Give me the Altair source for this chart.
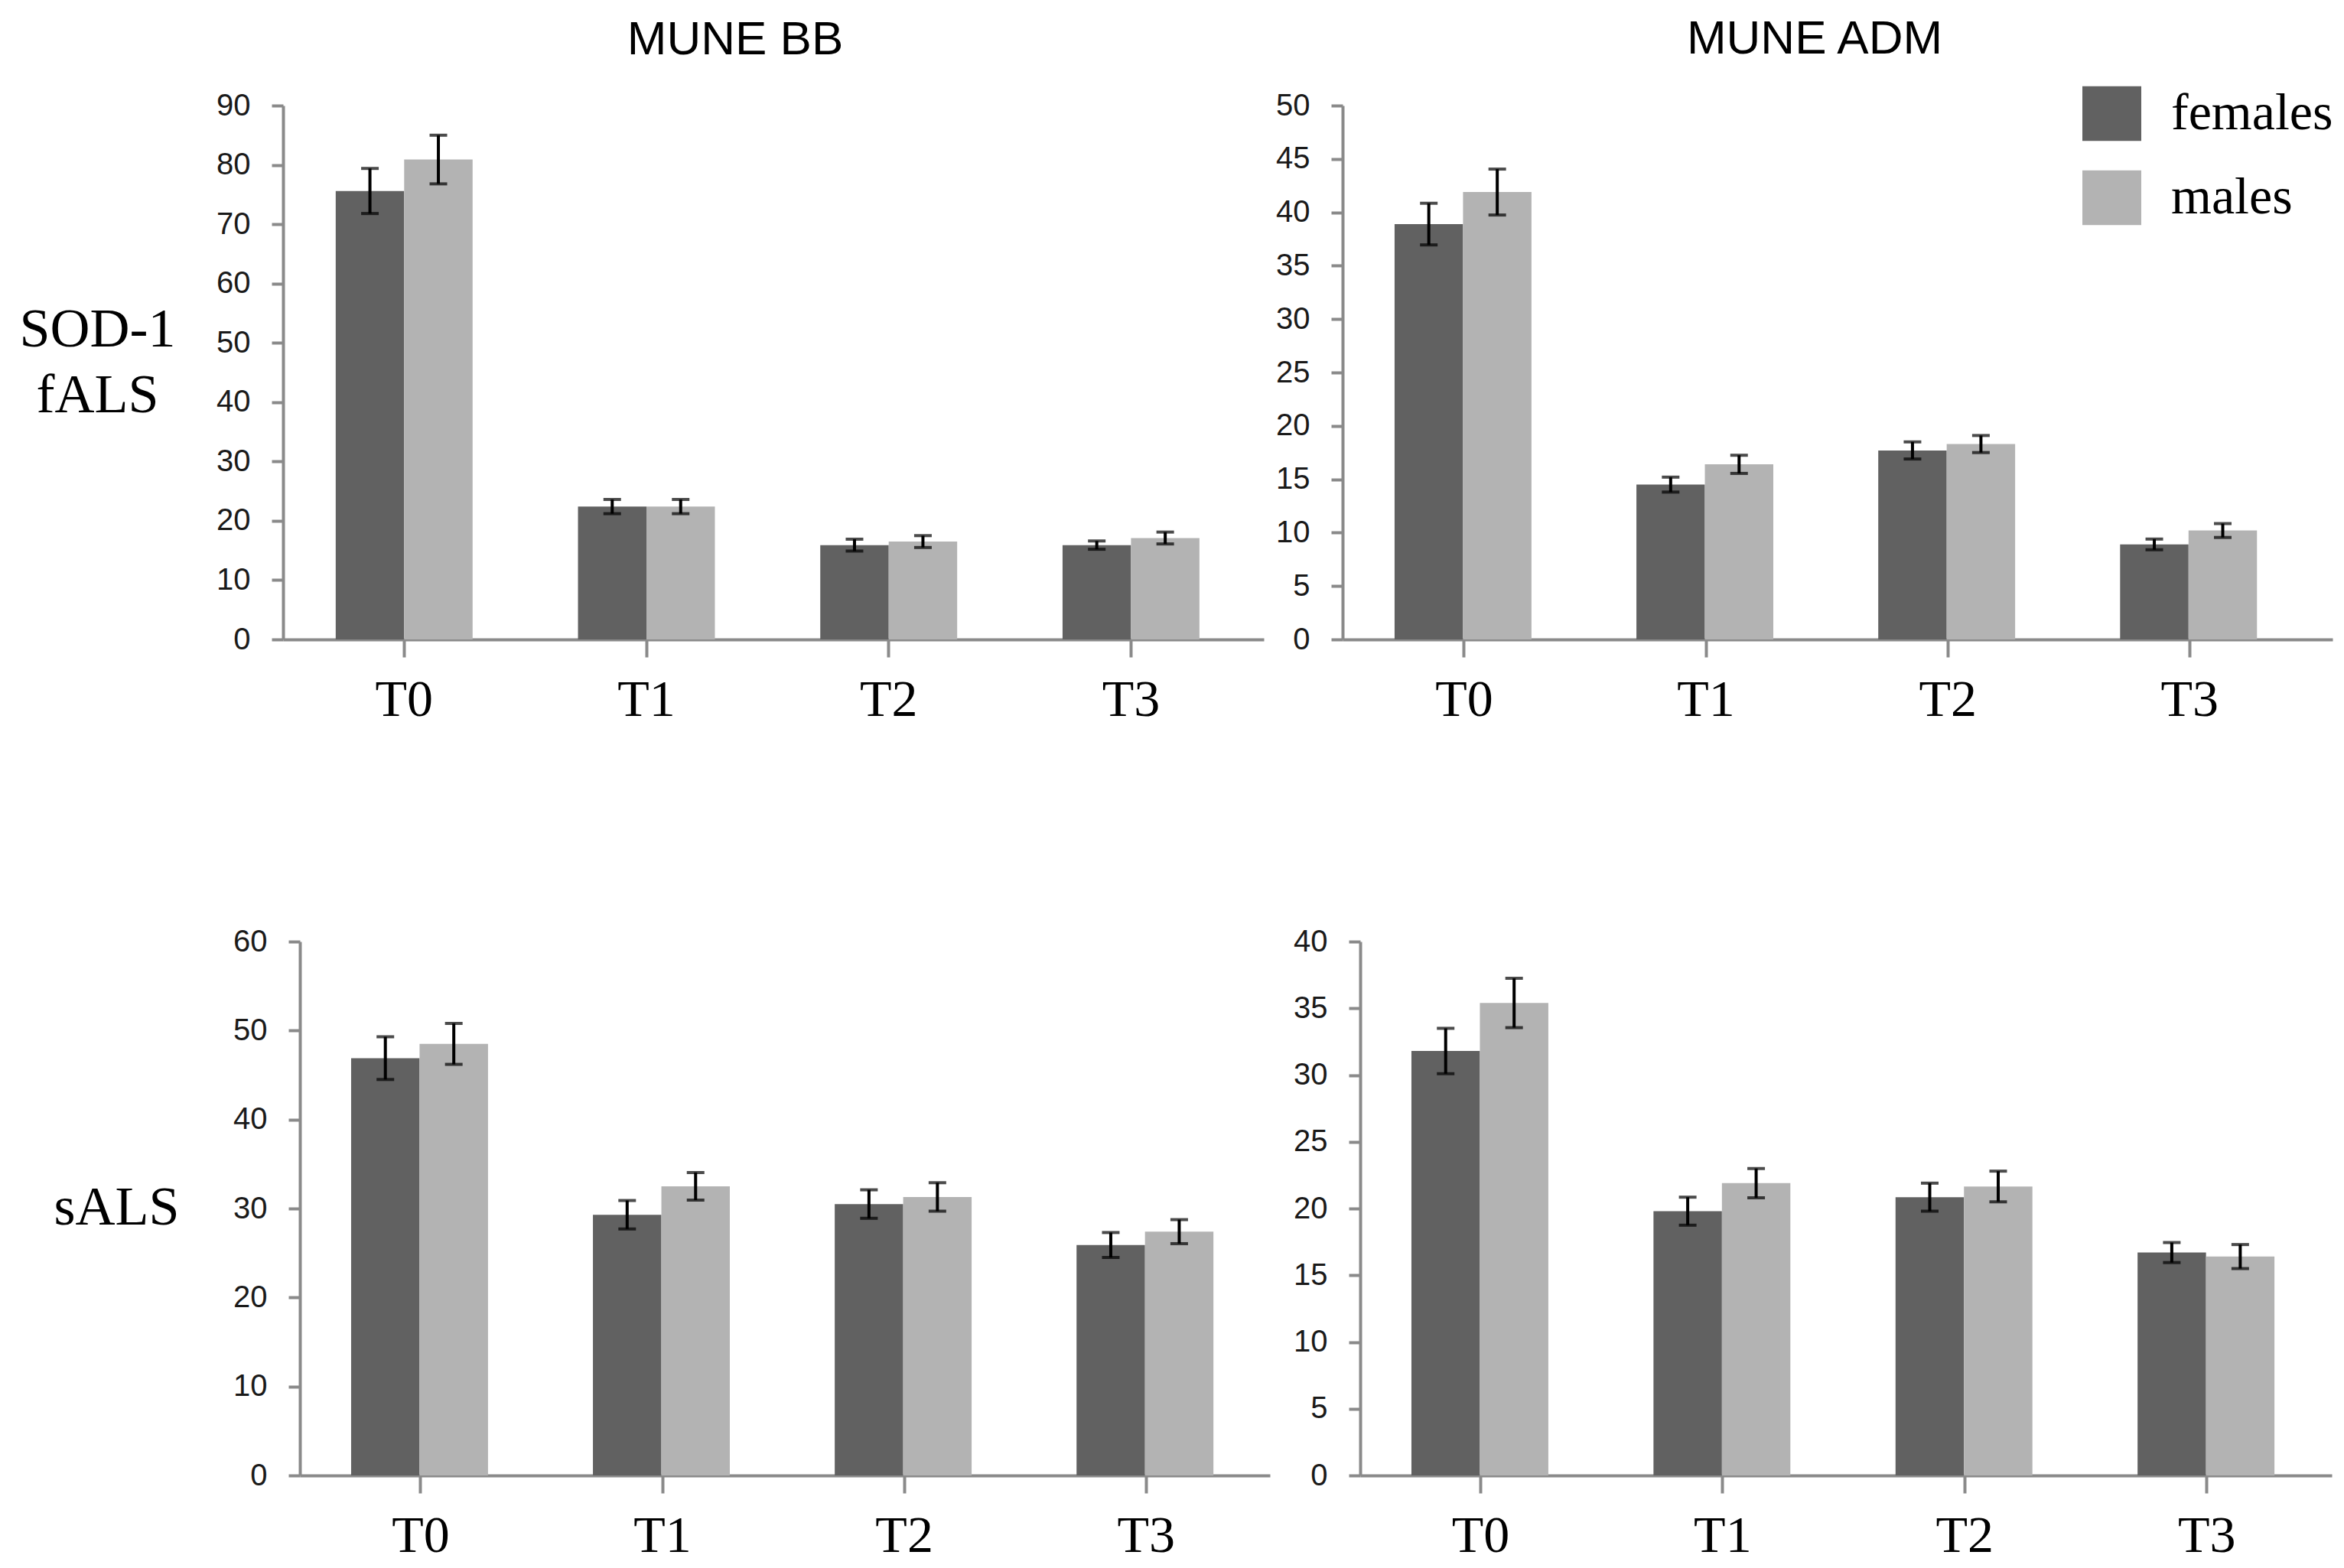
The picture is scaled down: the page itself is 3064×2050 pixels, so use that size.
import altair as alt
import pandas as pd

# ---------------- data ----------------
times = ["T0", "T1", "T2", "T3"]
sexes = ["females", "males"]
sex_colors = ["#616161", "#b3b3b3"]

col_titles = ["MUNE BB", "MUNE ADM"]
row_title_top = ["SOD-1", "fALS"]
row_title_bottom = "sALS"

# MUNE BB - SOD-1 fALS
bb_fals_females = [75.6, 22.4, 15.9, 15.9]
bb_fals_females_err = [3.8, 1.2, 1.0, 0.7]
bb_fals_males = [80.9, 22.4, 16.5, 17.1]
bb_fals_males_err = [4.1, 1.2, 1.0, 1.0]
bb_fals_ticks = [0, 10, 20, 30, 40, 50, 60, 70, 80, 90]

# MUNE ADM - SOD-1 fALS
adm_fals_females = [38.9, 14.5, 17.7, 8.9]
adm_fals_females_err = [1.95, 0.7, 0.8, 0.5]
adm_fals_males = [41.9, 16.4, 18.3, 10.2]
adm_fals_males_err = [2.15, 0.85, 0.8, 0.65]
adm_fals_ticks = [0, 5, 10, 15, 20, 25, 30, 35, 40, 45, 50]

# MUNE BB - sALS
bb_sals_females = [46.9, 29.3, 30.5, 25.9]
bb_sals_females_err = [2.4, 1.6, 1.6, 1.4]
bb_sals_males = [48.5, 32.5, 31.3, 27.4]
bb_sals_males_err = [2.3, 1.55, 1.6, 1.35]
bb_sals_ticks = [0, 10, 20, 30, 40, 50, 60]

# MUNE ADM - sALS
adm_sals_females = [31.8, 19.8, 20.85, 16.7]
adm_sals_females_err = [1.7, 1.05, 1.05, 0.75]
adm_sals_males = [35.4, 21.9, 21.65, 16.4]
adm_sals_males_err = [1.85, 1.1, 1.15, 0.9]
adm_sals_ticks = [0, 5, 10, 15, 20, 25, 30, 35, 40]

AXIS_GRAY = "#8a8a8a"


def panel(fem, fem_err, mal, mal_err, ticks, width, height, band,
          title=None, title_dx=0, title_offset=40,
          ytitle=None, ytitle_opts=None, legend=None):
    df = pd.DataFrame({
        "time": times + times,
        "sex": [sexes[0]] * len(times) + [sexes[1]] * len(times),
        "value": fem + mal,
        "err": fem_err + mal_err,
    })
    df["lo"] = df["value"] - df["err"]
    df["hi"] = df["value"] + df["err"]

    p_in, p_out, b_align = band
    x = alt.X("time:N", sort=times,
              scale=alt.Scale(paddingInner=p_in, paddingOuter=p_out, align=b_align),
              axis=alt.Axis(title=None, labelAngle=0, labelFont="Liberation Serif",
                            labelFontSize=68, labelColor="black", labelPadding=22,
                            tickSize=23, tickWidth=4, tickColor=AXIS_GRAY,
                            domainColor=AXIS_GRAY, domainWidth=4, grid=False))
    xo = alt.XOffset("sex:N", sort=sexes,
                     scale=alt.Scale(paddingInner=0, paddingOuter=0))
    axis_kw = dict(values=ticks, grid=False, domainColor=AXIS_GRAY, domainWidth=4,
                   tickColor=AXIS_GRAY, tickWidth=4, tickSize=15,
                   labelFont="Liberation Sans", labelFontSize=40, labelColor="#1a1a1a",
                   labelPadding=28)
    if ytitle is not None:
        axis_kw.update(title=ytitle, titleAngle=0, titleFont="Liberation Serif",
                       titleFontSize=72, titleFontWeight="normal", titleColor="black",
                       titleLineHeight=86, **(ytitle_opts or {}))
    else:
        axis_kw.update(title=None)
    yaxis = alt.Axis(**axis_kw)
    yscale = alt.Scale(domain=[ticks[0], ticks[-1]], nice=False)

    if legend is None:
        color = alt.Color("sex:N", sort=sexes,
                          scale=alt.Scale(domain=sexes, range=sex_colors), legend=None)
    else:
        color = alt.Color("sex:N", sort=sexes,
                          scale=alt.Scale(domain=sexes, range=sex_colors), legend=legend)

    base = alt.Chart(df)
    bars = base.mark_bar().encode(
        x=x, xOffset=xo,
        y=alt.Y("value:Q", scale=yscale, axis=yaxis),
        color=color)
    rules = base.mark_rule(color="black", strokeWidth=4).encode(
        x=x, xOffset=xo,
        y=alt.Y("lo:Q", scale=yscale, axis=yaxis), y2="hi:Q")
    cap_lo = base.mark_tick(color="black", size=23, thickness=4).encode(
        x=x, xOffset=xo, y=alt.Y("lo:Q", scale=yscale, axis=yaxis))
    cap_hi = base.mark_tick(color="black", size=23, thickness=4).encode(
        x=x, xOffset=xo, y=alt.Y("hi:Q", scale=yscale, axis=yaxis))

    props = dict(width=width, height=height)
    if title is not None:
        props["title"] = alt.TitleParams(text=title, font="Liberation Sans", fontSize=62,
                                         fontWeight="normal", color="black",
                                         anchor="middle", dx=title_dx, offset=title_offset)
    return alt.layer(bars, rules, cap_lo, cap_hi).properties(**props)


def spacer(w):
    # empty, invisible view used only to shift a row horizontally
    return alt.Chart(pd.DataFrame({"s": [0]})).mark_point(size=0, opacity=0).encode(
        x=alt.value(0), y=alt.value(0)).properties(width=w, height=1)


legend = alt.Legend(orient="none", legendX=967, legendY=-28, title=None,
                    direction="vertical",
                    symbolType="M-1,-0.93H1V0.93H-1Z", symbolSize=5929,
                    symbolStrokeWidth=0, symbolOpacity=1,
                    labelFont="Liberation Serif", labelFontSize=68, labelColor="black",
                    labelOffset=39, labelLimit=500, rowPadding=35, padding=0)

tl = panel(bb_fals_females, bb_fals_females_err, bb_fals_males, bb_fals_males_err,
           bb_fals_ticks, 1282, 698, (0.435, 0.2415, 0.45),
           title=col_titles[0], title_dx=-50, title_offset=34,
           ytitle=row_title_top,
           ytitle_opts=dict(titleAlign="center", titleBaseline="alphabetic",
                            titleX=-243, titleY=314))
tr = panel(adm_fals_females, adm_fals_females_err, adm_fals_males, adm_fals_males_err,
           adm_fals_ticks, 1294, 698, (0.4246, 0.259, 0.415),
           title=col_titles[1], title_dx=-30, title_offset=27, legend=legend)
bl = panel(bb_sals_females, bb_sals_females_err, bb_sals_males, bb_sals_males_err,
           bb_sals_ticks, 1268, 698, (0.4244, 0.218, 0.486),
           ytitle=row_title_bottom,
           ytitle_opts=dict(titleAlign="right", titleBaseline="alphabetic",
                            titleX=-158, titleY=369))
br = panel(adm_sals_females, adm_sals_females_err, adm_sals_males, adm_sals_males_err,
           adm_sals_ticks, 1270, 698, (0.428, 0.221, 0.479))

top = alt.hconcat(spacer(0), tl, tr, spacing=15).resolve_scale(
    color="independent").resolve_legend(color="independent")
bottom = alt.hconcat(spacer(50), bl, br, spacing=30).resolve_scale(
    color="independent").resolve_legend(color="independent")

chart = alt.vconcat(top, bottom, spacing=262).resolve_scale(
    color="independent").resolve_legend(color="independent").properties(
    padding={"left": -19, "top": 12, "right": 5, "bottom": 5},
    background="white",
).configure_view(stroke=None)

chart.save("out.html", embed_options={"renderer": "svg", "actions": False})
